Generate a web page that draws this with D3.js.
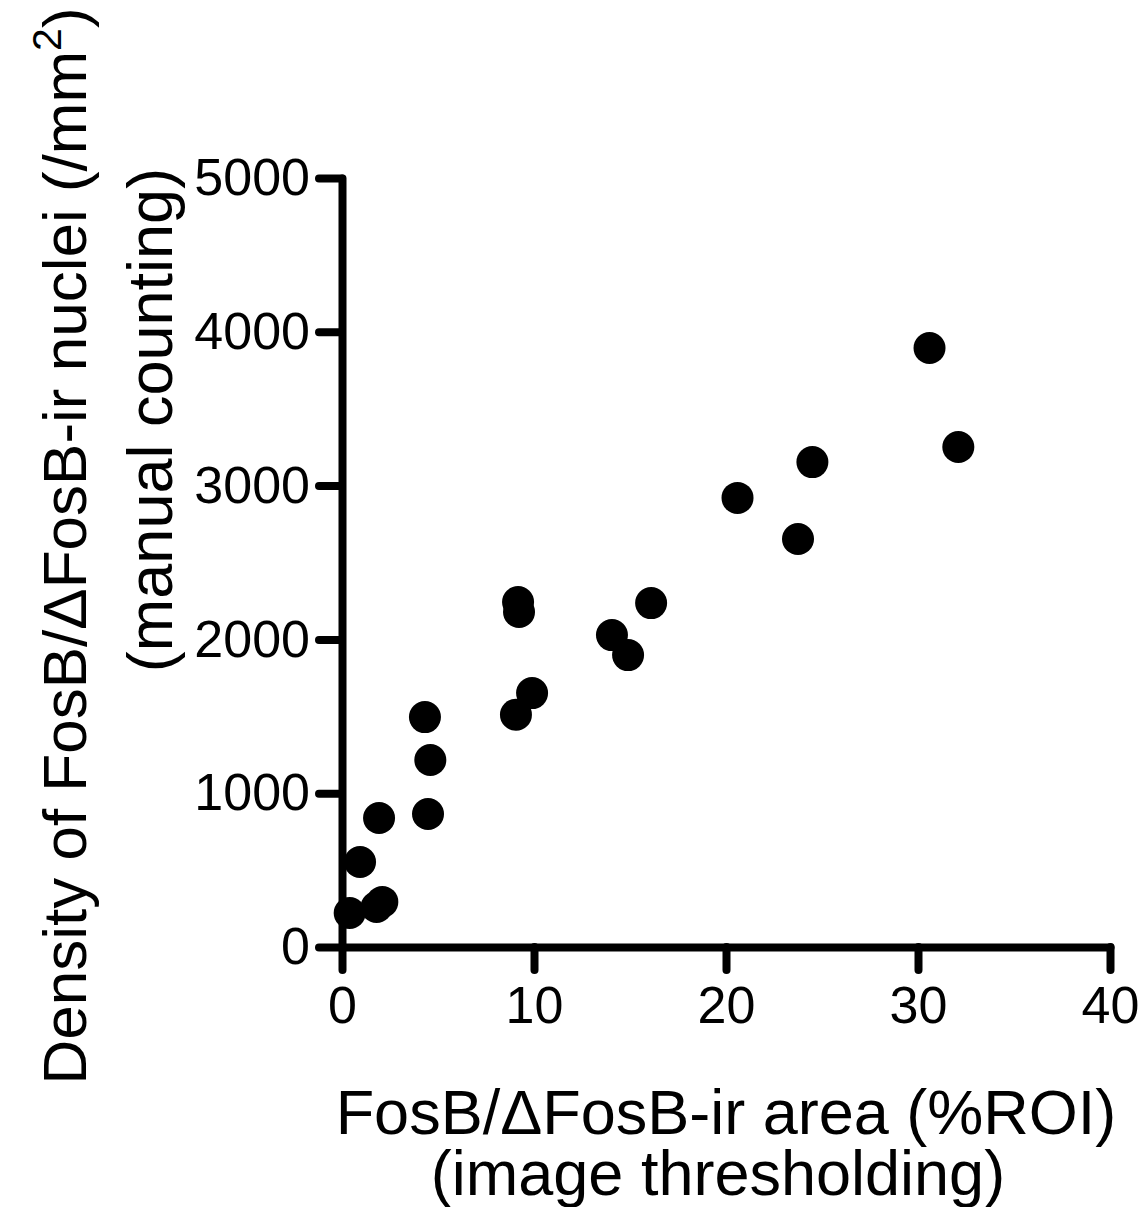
<!DOCTYPE html>
<html>
<head>
<meta charset="utf-8">
<script src="https://cdn.jsdelivr.net/npm/d3@7"></script>
<style>
    body { margin: 0; background: #fff; }
    text { font-family: "Liberation Sans", Arial, sans-serif; fill: #000; }
</style>
</head>
<body>
<div id="chart"></div>
<script>
// values
const areaPct = [0.4, 1.8, 2.1, 0.94, 1.93, 4.48, 4.6, 4.32, 9.06, 9.9, 9.17, 9.22, 14.06, 14.9, 16.1, 20.6, 23.75, 24.5, 30.6, 32.1];
const density = [221, 260, 293, 553, 839, 865, 1216, 1495, 1510, 1651, 2243, 2178, 2028, 1898, 2236, 2920, 2653, 3153, 3895, 3251];
const xTicks = [0, 10, 20, 30, 40];
const yTicks = [0, 1000, 2000, 3000, 4000, 5000];
const xTitle = ['FosB/\u0394FosB-ir area (%ROI)', '(image thresholding)'];
const yTitle = ['Density of FosB/\u0394FosB-ir nuclei (/mm', '(manual counting)'];

const width = 1148, height = 1207;
const margin = { top: 178, right: 38, bottom: 260, left: 342 };

const x = d3.scaleLinear()
    .domain([0, 40])
    .range([margin.left, width - margin.right]);

const y = d3.scaleLinear()
    .domain([0, 5000])
    .range([height - margin.bottom, margin.top]);

const svg = d3.select('#chart').append('svg')
    .attr('width', width)
    .attr('height', height);

// Prism-like axis styling: thick black lines, round caps
const styleAxis = g => {
    g.selectAll('line, path')
        .attr('stroke', '#000')
        .attr('stroke-width', 8)
        .attr('stroke-linecap', 'round')
        .attr('stroke-linejoin', 'round');
    g.selectAll('text')
        .attr('font-size', 52)
        .attr('font-family', '"Liberation Sans", Arial, sans-serif')
        .attr('fill', '#000');
};

let xAxis = g => g
    .attr('transform', `translate(0,${y(0)})`)
    .call(d3.axisBottom(x).tickValues(xTicks).tickFormat(d3.format('d'))
        .tickSize(23).tickSizeOuter(0).tickPadding(16))
    .call(styleAxis);

let yAxis = g => g
    .attr('transform', `translate(${x(0)},0)`)
    .call(d3.axisLeft(y).tickValues(yTicks).tickFormat(d3.format('d'))
        .tickSize(23).tickSizeOuter(0).tickPadding(9))
    .call(styleAxis);

svg.append('g').call(xAxis);
svg.append('g').call(yAxis);

// points
svg.append('g')
    .selectAll('circle')
    .data(areaPct)
    .join('circle')
    .attr('cx', d => x(d))
    .attr('cy', (d, i) => y(density[i]))
    .attr('r', 16)
    .attr('fill', '#000');

// x title
const xMid = (x(0) + x(40)) / 2;
svg.append('text')
    .attr('x', xMid)
    .attr('y', 1134)
    .attr('text-anchor', 'middle')
    .attr('font-size', 63)
    .text(xTitle[0]);

svg.append('text')
    .attr('x', xMid - 8)
    .attr('y', 1195)
    .attr('text-anchor', 'middle')
    .attr('font-size', 63)
    .text(xTitle[1]);

// y title, rotated
let yt1 = svg.append('text')
    .attr('transform', 'translate(86,546) rotate(-90)')
    .attr('text-anchor', 'middle')
    .attr('font-size', 62);
yt1.append('tspan').text(yTitle[0]);
yt1.append('tspan').attr('font-size', 41).attr('dy', -25).text('2');
yt1.append('tspan').attr('dy', 25).text(')');

svg.append('text')
    .attr('transform', 'translate(172,420) rotate(-90)')
    .attr('text-anchor', 'middle')
    .attr('font-size', 63)
    .text(yTitle[1]);
</script>
</body>
</html>
